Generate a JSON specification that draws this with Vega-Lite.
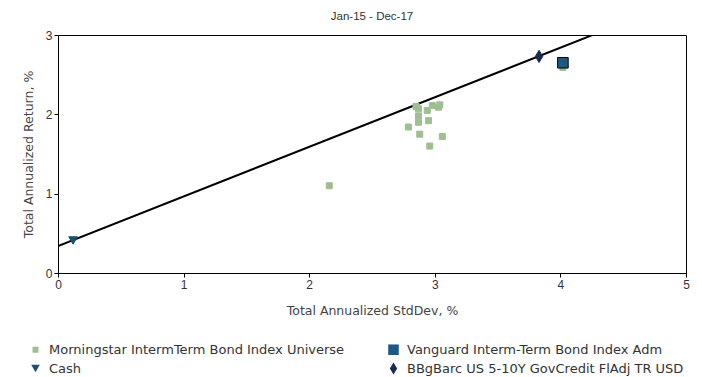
{
  "$schema": "https://vega.github.io/schema/vega-lite/v6.json",
  "width": 628,
  "height": 238,
  "autosize": "none",
  "padding": {"left": 58, "top": 35, "right": 16, "bottom": 104},
  "background": "white",
  "title": {"text": "Jan-15 - Dec-17", "fontSize": 11.5, "fontWeight": "normal", "color": "#333333", "font": "Liberation Sans", "offset": 7},
  "config": {
    "font": "DejaVu Sans",
    "view": {"stroke": "black", "strokeWidth": 1},
    "axis": {"grid": false, "domainColor": "black", "tickColor": "black", "tickSize": 4, "labelFontSize": 12, "labelColor": "#333333", "titleFontSize": 12.5, "titleFontWeight": "normal", "titleColor": "#444444", "labelFont": "Liberation Sans", "titleFont": "DejaVu Sans", "format": "d", "labelFlush": false}
  },
  "datasets": {
    "pts": [
      {"series": "Morningstar IntermTerm Bond Index Universe", "sd": 2.85, "ret": 2.10},
      {"series": "Morningstar IntermTerm Bond Index Universe", "sd": 2.87, "ret": 2.07},
      {"series": "Morningstar IntermTerm Bond Index Universe", "sd": 2.98, "ret": 2.11},
      {"series": "Morningstar IntermTerm Bond Index Universe", "sd": 3.04, "ret": 2.12},
      {"series": "Morningstar IntermTerm Bond Index Universe", "sd": 3.03, "ret": 2.09},
      {"series": "Morningstar IntermTerm Bond Index Universe", "sd": 2.94, "ret": 2.05},
      {"series": "Morningstar IntermTerm Bond Index Universe", "sd": 2.87, "ret": 1.98},
      {"series": "Morningstar IntermTerm Bond Index Universe", "sd": 2.87, "ret": 1.90},
      {"series": "Morningstar IntermTerm Bond Index Universe", "sd": 2.95, "ret": 1.92},
      {"series": "Morningstar IntermTerm Bond Index Universe", "sd": 2.79, "ret": 1.84},
      {"series": "Morningstar IntermTerm Bond Index Universe", "sd": 2.88, "ret": 1.75},
      {"series": "Morningstar IntermTerm Bond Index Universe", "sd": 3.06, "ret": 1.72},
      {"series": "Morningstar IntermTerm Bond Index Universe", "sd": 2.96, "ret": 1.60},
      {"series": "Morningstar IntermTerm Bond Index Universe", "sd": 2.16, "ret": 1.10},
      {"series": "Morningstar IntermTerm Bond Index Universe", "sd": 4.02, "ret": 2.59},
      {"series": "Vanguard Interm-Term Bond Index Adm", "sd": 4.02, "ret": 2.65},
      {"series": "Cash", "sd": 0.12, "ret": 0.41},
      {"series": "BBgBarc US 5-10Y GovCredit FlAdj TR USD", "sd": 3.83, "ret": 2.73}
    ],
    "line": [
      {"sd": 0, "ret": 0.34},
      {"sd": 5, "ret": 3.465}
    ]
  },
  "layer": [
    {
      "data": {"name": "line"},
      "mark": {"type": "line", "color": "black", "strokeWidth": 2, "clip": true},
      "encoding": {
        "x": {"field": "sd", "type": "quantitative"},
        "y": {"field": "ret", "type": "quantitative"}
      }
    },
    {
      "data": {"name": "pts"},
      "mark": {"type": "point", "filled": true, "opacity": 1, "strokeWidth": 1},
      "encoding": {
        "x": {"field": "sd", "type": "quantitative", "scale": {"domain": [0, 5], "nice": false}, "axis": {"values": [0, 1, 2, 3, 4, 5], "title": "Total Annualized StdDev, %", "titlePadding": 14}},
        "y": {"field": "ret", "type": "quantitative", "scale": {"domain": [0, 3], "nice": false}, "axis": {"values": [0, 1, 2, 3], "title": "Total Annualized Return, %", "titlePadding": 10}},
        "color": {"field": "series", "type": "nominal",
          "scale": {"domain": ["Morningstar IntermTerm Bond Index Universe", "Cash", "Vanguard Interm-Term Bond Index Adm", "BBgBarc US 5-10Y GovCredit FlAdj TR USD"],
                    "range": ["#9fbf92", "#1a4f73", "#1c5a85", "#1a2b4c"]},
          "legend": {"orient": "none", "legendX": -29, "legendY": 308, "columns": 2, "title": null, "labelFont": "DejaVu Sans", "labelFontSize": 13, "labelColor": "#333333", "symbolSize": 120, "rowPadding": 5, "columnPadding": 42, "labelOffset": 7, "symbolStrokeWidth": 0, "labelLimit": 0, "encode": {"symbols": {"update": {"size": {"value": 120}, "strokeWidth": {"value": 0}}}}}
        },
        "shape": {"field": "series", "type": "nominal",
          "scale": {"domain": ["Morningstar IntermTerm Bond Index Universe", "Cash", "Vanguard Interm-Term Bond Index Adm", "BBgBarc US 5-10Y GovCredit FlAdj TR USD"],
                    "range": ["square", "triangle-down", "square", "M0,-1L0.6,0L0,1L-0.6,0Z"]},
          "legend": {"orient": "none", "legendX": -29, "legendY": 308, "columns": 2, "title": null, "labelFont": "DejaVu Sans", "labelFontSize": 13, "labelColor": "#333333", "symbolSize": 120, "rowPadding": 5, "columnPadding": 42, "labelOffset": 7, "symbolStrokeWidth": 0, "labelLimit": 0, "encode": {"symbols": {"update": {"size": {"value": 120}, "strokeWidth": {"value": 0}}}}}
        },
        "size": {"field": "series", "type": "nominal",
          "scale": {"domain": ["Morningstar IntermTerm Bond Index Universe", "Cash", "Vanguard Interm-Term Bond Index Adm", "BBgBarc US 5-10Y GovCredit FlAdj TR USD"],
                    "range": [36, 150, 90, 90]},
          "legend": null
        },
        "stroke": {"field": "series", "type": "nominal",
          "scale": {"domain": ["Morningstar IntermTerm Bond Index Universe", "Cash", "Vanguard Interm-Term Bond Index Adm", "BBgBarc US 5-10Y GovCredit FlAdj TR USD"],
                    "range": ["#9fbf92", "#1a4f73", "#000000", "#1a2b4c"]},
          "legend": null
        }
      }
    }
  ]
}
